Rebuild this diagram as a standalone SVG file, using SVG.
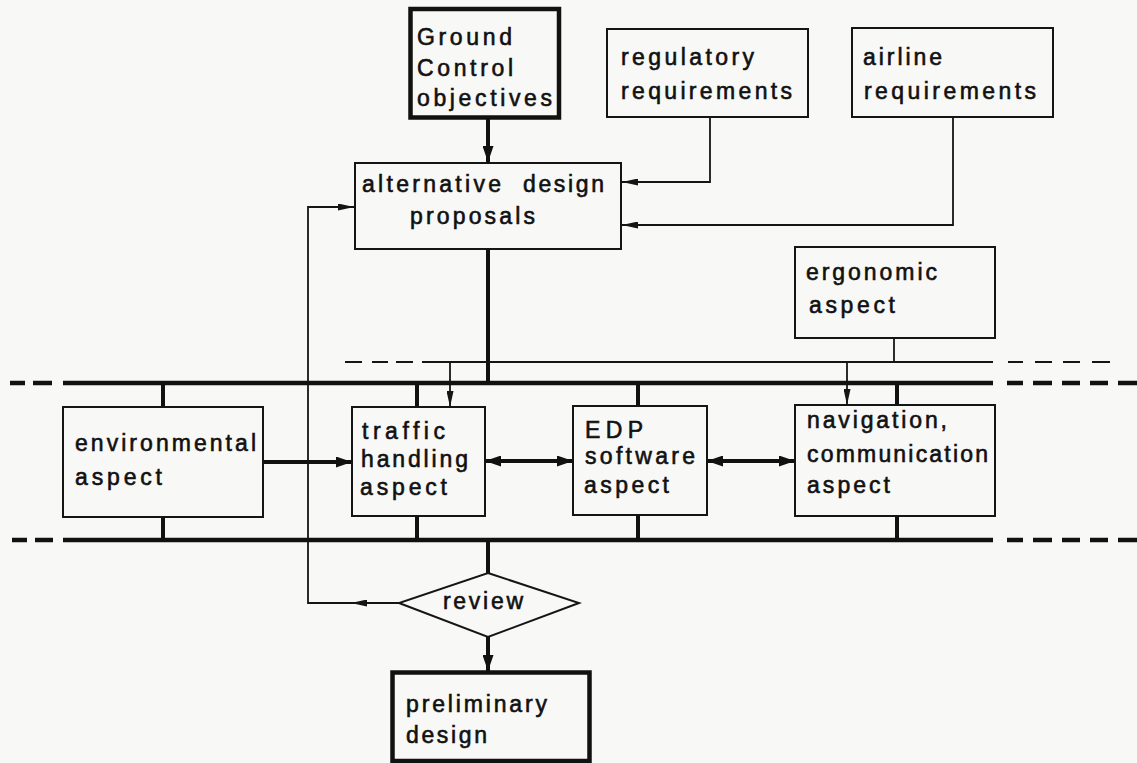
<svg xmlns="http://www.w3.org/2000/svg" width="1137" height="763" viewBox="0 0 1137 763">
  <style>
    .bg { fill: #f8f8f6; }
    .box { fill: none; stroke: #151515; stroke-width: 2; }
    .box-bold { fill: none; stroke: #111; stroke-width: 4.5; }
    .lbl { font-family: "Liberation Sans", Arial, sans-serif; font-size: 23px; fill: #111; stroke: #111; stroke-width: 0.6; }
    .thin { fill: none; stroke: #151515; stroke-width: 1.8; }
    .thick { fill: none; stroke: #111; stroke-width: 4; }
    .bus { fill: none; stroke: #111; stroke-width: 4.5; }
  </style>
  <defs>
    <marker id="head-thick" markerUnits="userSpaceOnUse" viewBox="0 0 16 11" refX="16" refY="5.5" markerWidth="16" markerHeight="11" orient="auto-start-reverse">
      <path d="M0,0 L16,5.5 L0,11 z" fill="#111"/>
    </marker>
    <marker id="head-thin" markerUnits="userSpaceOnUse" viewBox="0 0 16 7" refX="16" refY="3.5" markerWidth="16" markerHeight="7" orient="auto">
      <path d="M0,0 L16,3.5 L0,7 z" fill="#151515"/>
    </marker>
  </defs>

  <rect class="bg" x="0" y="0" width="1137" height="763"/>

  <!-- connectors -->
  <g id="connectors">
    <!-- objectives down to proposals -->
    <path class="thick" d="M488,119 V162" marker-end="url(#head-thick)"/>
    <!-- requirement inputs -->
    <path class="thin" d="M710,117 V182 H622" marker-end="url(#head-thin)"/>
    <path class="thin" d="M953,117 V225 H622" marker-end="url(#head-thin)"/>
    <!-- proposals to upper bus -->
    <path class="thick" d="M488,249 V383"/>

    <!-- ergonomic feed line (dashed ends) -->
    <path class="thin" d="M894,338 V362"/>
    <path class="thin" d="M422,362 H993"/>
    <path class="thin" d="M345,362 H362 M372,362 H388 M396,362 H413"/>
    <path class="thin" d="M1008,362 H1023 M1035,362 H1052 M1063,362 H1080 M1092,362 H1110"/>
    <path class="thin" d="M450,362 V407" marker-end="url(#head-thin)"/>
    <path class="thin" d="M847,362 V405" marker-end="url(#head-thin)"/>

    <!-- upper bus -->
    <path class="bus" d="M63,383 H993"/>
    <path class="bus" d="M10,383 H25 M33,383 H52"/>
    <path class="bus" d="M1007,383 H1023 M1033,383 H1052 M1062,383 H1080 M1090,383 H1108 M1118,383 H1137"/>
    <!-- lower bus -->
    <path class="bus" d="M63,540 H993"/>
    <path class="bus" d="M12,540 H27 M35,540 H53"/>
    <path class="bus" d="M1007,540 H1023 M1033,540 H1052 M1062,540 H1080 M1090,540 H1108 M1118,540 H1137"/>

    <!-- bus taps -->
    <path class="thick" d="M163,383 V407 M417,383 V407 M638,383 V406 M897,383 V405"/>
    <path class="thick" d="M163,517 V540 M417,516 V540 M638,515 V540 M897,516 V540"/>

    <!-- links between aspects -->
    <path class="thick" d="M263,462 H352" marker-end="url(#head-thick)"/>
    <path class="thick" d="M485,461 H573" marker-start="url(#head-thick)" marker-end="url(#head-thick)"/>
    <path class="thick" d="M707,461 H795" marker-start="url(#head-thick)" marker-end="url(#head-thick)"/>

    <!-- lower bus to review, review to result -->
    <path class="thick" d="M488,540 V573"/>
    <path class="thick" d="M488,637 V671" marker-end="url(#head-thick)"/>

    <!-- feedback loop -->
    <path class="thin" d="M399,603 H351" marker-end="url(#head-thin)"/>
    <path class="thin" d="M352,603 H308 V207 H354" marker-end="url(#head-thin)"/>
  </g>

  <g id="ground-control-objectives">
    <rect class="box-bold" x="410.5" y="9" width="148.5" height="108.5"/>
    <text class="lbl" x="417" y="45" textLength="95" lengthAdjust="spacing">Ground</text>
    <text class="lbl" x="417" y="76" textLength="96" lengthAdjust="spacing">Control</text>
    <text class="lbl" x="417" y="106" textLength="135" lengthAdjust="spacing">objectives</text>
  </g>

  <g id="regulatory-requirements">
    <rect class="box" x="607" y="29" width="201" height="88"/>
    <text class="lbl" x="621" y="65" textLength="133" lengthAdjust="spacing">regulatory</text>
    <text class="lbl" x="621" y="99" textLength="171" lengthAdjust="spacing">requirements</text>
  </g>

  <g id="airline-requirements">
    <rect class="box" x="852" y="28" width="201" height="89"/>
    <text class="lbl" x="863" y="65" textLength="79" lengthAdjust="spacing">airline</text>
    <text class="lbl" x="864" y="99" textLength="172" lengthAdjust="spacing">requirements</text>
  </g>

  <g id="alternative-design-proposals">
    <rect class="box" x="355" y="163" width="266" height="86"/>
    <text class="lbl" y="192"><tspan x="362" textLength="139" lengthAdjust="spacing">alternative</tspan><tspan x="523" textLength="81" lengthAdjust="spacing">design</tspan></text>
    <text class="lbl" x="410" y="224" textLength="125" lengthAdjust="spacing">proposals</text>
  </g>

  <g id="ergonomic-aspect">
    <rect class="box" x="795" y="247" width="200" height="91"/>
    <text class="lbl" x="806" y="280" textLength="131" lengthAdjust="spacing">ergonomic</text>
    <text class="lbl" x="809" y="313" textLength="86" lengthAdjust="spacing">aspect</text>
  </g>

  <g id="environmental-aspect">
    <rect class="box" x="63" y="407" width="200" height="110"/>
    <text class="lbl" x="75" y="451" textLength="181" lengthAdjust="spacing">environmental</text>
    <text class="lbl" x="75" y="485" textLength="87" lengthAdjust="spacing">aspect</text>
  </g>

  <g id="traffic-handling-aspect">
    <rect class="box" x="352" y="407" width="133" height="109"/>
    <text class="lbl" x="362" y="439" textLength="83" lengthAdjust="spacing">traffic</text>
    <text class="lbl" x="361" y="467" textLength="107" lengthAdjust="spacing">handling</text>
    <text class="lbl" x="360" y="495" textLength="87" lengthAdjust="spacing">aspect</text>
  </g>

  <g id="edp-software-aspect">
    <rect class="box" x="573" y="406" width="134" height="109"/>
    <text class="lbl" x="585" y="438" textLength="58" lengthAdjust="spacing">EDP</text>
    <text class="lbl" x="585" y="464" textLength="110" lengthAdjust="spacing">software</text>
    <text class="lbl" x="584" y="493" textLength="85" lengthAdjust="spacing">aspect</text>
  </g>

  <g id="navigation-communication-aspect">
    <rect class="box" x="795" y="405" width="200" height="111"/>
    <text class="lbl" x="807" y="428" textLength="140" lengthAdjust="spacing">navigation,</text>
    <text class="lbl" x="807" y="462" textLength="181" lengthAdjust="spacing">communication</text>
    <text class="lbl" x="807" y="493" textLength="83" lengthAdjust="spacing">aspect</text>
  </g>

  <g id="review">
    <polygon class="box" points="488,573 579,603 488,637 399,603"/>
    <text class="lbl" x="443" y="609" textLength="80" lengthAdjust="spacing">review</text>
  </g>

  <g id="preliminary-design">
    <rect class="box-bold" x="392.5" y="672.5" width="197" height="88.5"/>
    <text class="lbl" x="406" y="712" textLength="141" lengthAdjust="spacing">preliminary</text>
    <text class="lbl" x="406" y="743" textLength="81" lengthAdjust="spacing">design</text>
  </g>
</svg>
